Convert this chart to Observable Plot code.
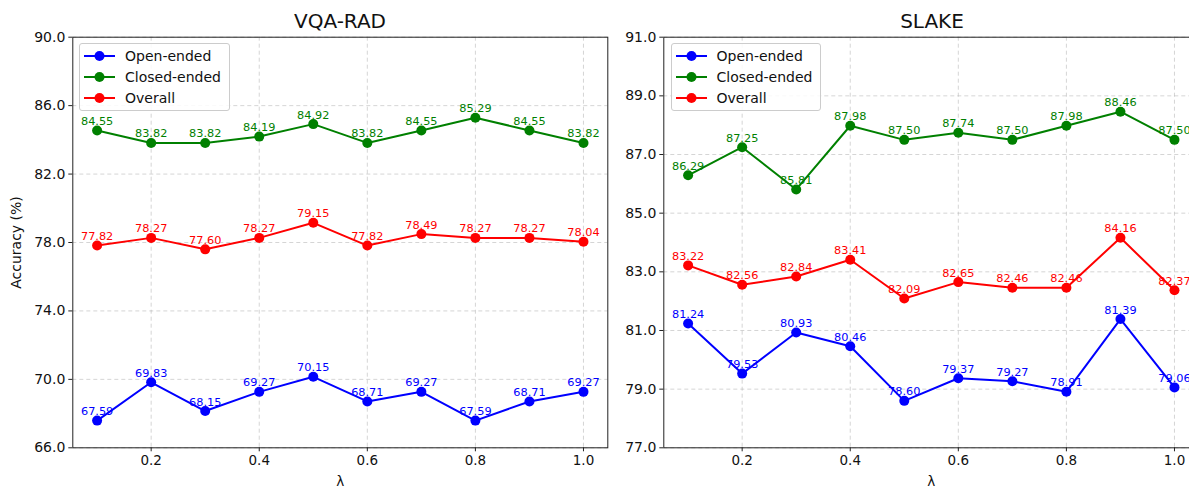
<!DOCTYPE html>
<html>
<head>
<meta charset="utf-8">
<script src="https://cdn.jsdelivr.net/npm/d3@7"></script>
<script src="https://cdn.jsdelivr.net/npm/@observablehq/plot@0.6"></script>
<style>
  html, body { margin: 0; padding: 0; background: #fff; }
  body { width: 1189px; height: 488px; overflow: hidden; position: relative; font-family: "DejaVu Sans", sans-serif; }
  .panel { position: absolute; top: 0; }
  .panel svg { max-width: none !important; }
  .title { position: absolute; top: 9px; font-size: 20px; color: #111; transform: translateX(-50%); white-space: nowrap; line-height: 24px; }
  .legend { position: absolute; border: 1px solid #cccccc; border-radius: 3px; background: rgba(255,255,255,0.85); padding: 1px 8px 2px 4px; }
  .legend .row { display: flex; align-items: center; height: 21px; font-size: 14px; color: #111; }
  .legend svg { margin-right: 10px; }
</style>
</head>
<body>
<div id="root"></div>
<script>
// ---- data ----
const lambdas = [0.1, 0.2, 0.3, 0.4, 0.5, 0.6, 0.7, 0.8, 0.9, 1.0];
const seriesNames = ["Open-ended", "Closed-ended", "Overall"];
const seriesColors = ["#0000ff", "#008000", "#ff0000"];

const vqaOpen    = [67.59, 69.83, 68.15, 69.27, 70.15, 68.71, 69.27, 67.59, 68.71, 69.27];
const vqaClosed  = [84.55, 83.82, 83.82, 84.19, 84.92, 83.82, 84.55, 85.29, 84.55, 83.82];
const vqaOverall = [77.82, 78.27, 77.60, 78.27, 79.15, 77.82, 78.49, 78.27, 78.27, 78.04];

const slakeOpen    = [81.24, 79.53, 80.93, 80.46, 78.60, 79.37, 79.27, 78.91, 81.39, 79.06];
const slakeClosed  = [86.29, 87.25, 85.81, 87.98, 87.50, 87.74, 87.50, 87.98, 88.46, 87.50];
const slakeOverall = [83.22, 82.56, 82.84, 83.41, 82.09, 82.65, 82.46, 82.46, 84.16, 82.37];

const xTicks = [0.2, 0.4, 0.6, 0.8, 1.0];
const vqaYTicks = [66, 70, 74, 78, 82, 86, 90];
const slakeYTicks = [77, 79, 81, 83, 85, 87, 89, 91];
const titles = ["VQA-RAD", "SLAKE"];

function buildRows(arrs) {
  const rows = [];
  arrs.forEach((arr, i) => arr.forEach((v, j) => rows.push({lambda: lambdas[j], value: v, series: seriesNames[i]})));
  return rows;
}

const root = document.getElementById("root");
const fmt1 = d3.format(".1f");

function makePanel({rows, yDomain, yTicks, left, width, marginLeft, marginRight, yLabel, title, titleX, legendLeft}) {
  const grid = {stroke: "#b0b0b0", strokeOpacity: 0.6, strokeDasharray: "4,3", strokeWidth: 0.9};
  const chart = Plot.plot({
    width, height: 488,
    marginLeft, marginRight, marginTop: 36.7, marginBottom: 40.7,
    style: {fontFamily: "DejaVu Sans", fontSize: "13.5px", color: "#111", background: "transparent", overflow: "visible"},
    x: {domain: [0.055, 1.045], label: null},
    y: {domain: yDomain, label: null},
    color: {domain: seriesNames, range: seriesColors},
    marks: [
      Plot.gridX(xTicks, grid),
      Plot.gridY(yTicks, grid),
      Plot.axisX(xTicks, {tickFormat: fmt1, tickSize: 4, tickPadding: 4, stroke: "#222",
        label: "λ", labelAnchor: "center", labelArrow: "none", labelOffset: 38}),
      Plot.axisY(yTicks, {tickFormat: fmt1, tickSize: 4, tickPadding: 3.5, stroke: "#222",
        label: yLabel, labelAnchor: "center", labelArrow: "none", labelOffset: 62, fontSize: 14}),
      Plot.line(rows, {x: "lambda", y: "value", z: "series", stroke: "series", strokeWidth: 2}),
      Plot.dot(rows, {x: "lambda", y: "value", fill: "series", r: 5}),
      Plot.text(rows, {x: "lambda", y: "value", text: d => d.value.toFixed(2), fill: "series",
        lineAnchor: "bottom", dy: -5.5, fontSize: 11.3}),
      Plot.frame({stroke: "#222", strokeWidth: 1})
    ]
  });
  chart.style.maxWidth = "none";
  const wrap = document.createElement("div");
  wrap.className = "panel";
  wrap.style.left = left + "px";
  wrap.style.width = width + "px";
  wrap.appendChild(chart);
  root.appendChild(wrap);

  const t = document.createElement("div");
  t.className = "title";
  t.style.left = titleX + "px";
  t.textContent = title;
  root.appendChild(t);

  const lg = document.createElement("div");
  lg.className = "legend";
  lg.style.left = legendLeft + "px";
  lg.style.top = "43px";
  seriesNames.forEach((name, i) => {
    const row = document.createElement("div");
    row.className = "row";
    const ns = "http://www.w3.org/2000/svg";
    const s = document.createElementNS(ns, "svg");
    s.setAttribute("width", 31); s.setAttribute("height", 14);
    const ln = document.createElementNS(ns, "line");
    ln.setAttribute("x1", 0); ln.setAttribute("x2", 31); ln.setAttribute("y1", 7); ln.setAttribute("y2", 7);
    ln.setAttribute("stroke", seriesColors[i]); ln.setAttribute("stroke-width", 2);
    const c = document.createElementNS(ns, "circle");
    c.setAttribute("cx", 15.5); c.setAttribute("cy", 7); c.setAttribute("r", 5);
    c.setAttribute("fill", seriesColors[i]);
    s.appendChild(ln); s.appendChild(c);
    const sp = document.createElement("span");
    sp.textContent = name;
    row.appendChild(s); row.appendChild(sp);
    lg.appendChild(row);
  });
  root.appendChild(lg);
}

makePanel({
  rows: buildRows([vqaOpen, vqaClosed, vqaOverall]),
  yDomain: [66, 90], yTicks: vqaYTicks,
  left: 0, width: 612, marginLeft: 72.3, marginRight: 4.7,
  yLabel: "Accuracy (%)", title: titles[0], titleX: 340, legendLeft: 79
});
makePanel({
  rows: buildRows([slakeOpen, slakeClosed, slakeOverall]),
  yDomain: [77, 91], yTicks: slakeYTicks,
  left: 590, width: 620, marginLeft: 73.3, marginRight: 11.7,
  yLabel: null, title: titles[1], titleX: 932, legendLeft: 670.5
});
</script>
</body>
</html>
